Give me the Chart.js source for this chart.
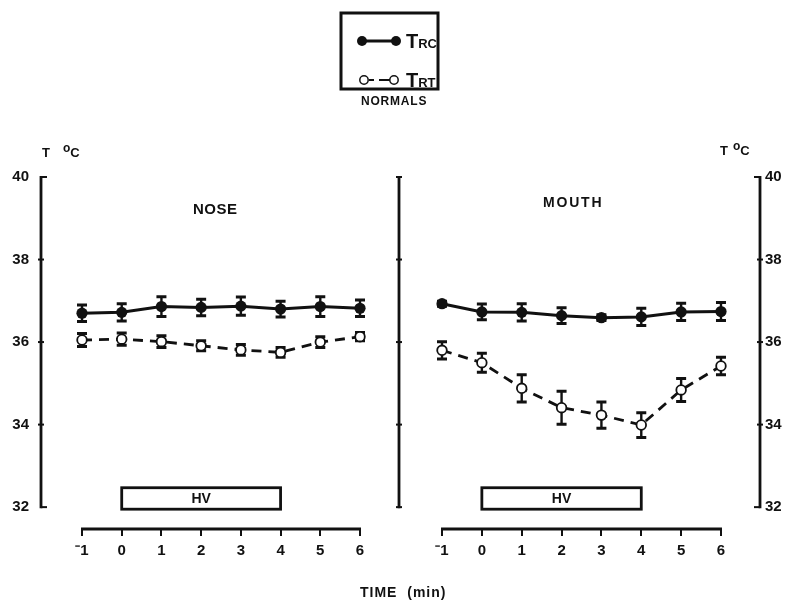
<!DOCTYPE html>
<html>
<head>
<meta charset="utf-8">
<script src="https://cdn.jsdelivr.net/npm/chart.js@4.4.0/dist/chart.umd.min.js"></script>
<style>
    body { margin: 0; background: #fff; }
    #wrap { position: relative; width: 790px; height: 602px; font-family: "Liberation Sans", Arial, sans-serif; font-weight: bold; color: #111; }
    canvas { position: absolute; left: 0; top: 0; }
    .lbl { position: absolute; white-space: nowrap; line-height: 1; }
    .sup { position: relative; top: -5px; font-size: 12px; }
    .sub { font-size: 13px; }
</style>
</head>
<body>
<div id="wrap">
    <canvas id="nose-chart" width="790" height="602"></canvas>
    <canvas id="mouth-chart" width="790" height="602"></canvas>

    <div class="lbl" style="left:406px;top:31px;font-size:20px">T<span class="sub">RC</span></div>
    <div class="lbl" style="left:406px;top:70px;font-size:20px">T<span class="sub">RT</span></div>
    <div class="lbl" style="left:361px;top:95px;font-size:12px;letter-spacing:0.8px">NORMALS</div>

    <div class="lbl" style="left:42px;top:146px;font-size:13px">T<span class="sup" style="margin-left:13px">o</span>C</div>
    <div class="lbl" style="left:720px;top:144px;font-size:13px">T<span class="sup" style="margin-left:5px">o</span>C</div>

    <div class="lbl" style="left:193px;top:201px;font-size:15px;letter-spacing:0.5px">NOSE</div>
    <div class="lbl" style="left:543px;top:195px;font-size:14px;letter-spacing:1.8px">MOUTH</div>

    <div class="lbl" style="left:360px;top:585px;font-size:14px;letter-spacing:1px">TIME&nbsp;&nbsp;(min)</div>
</div>

<script>
// time axis (min) and temperature axis (deg C)
const minutes = [-1, 0, 1, 2, 3, 4, 5, 6];
const tempTicks = [32, 34, 36, 38, 40];
const hvPeriod = [0, 4];

// NOSE breathing
const noseTrc = [36.70, 36.72, 36.86, 36.84, 36.87, 36.80, 36.86, 36.82];
const noseTrcErr = [0.20, 0.21, 0.24, 0.20, 0.22, 0.19, 0.24, 0.20];
const noseTrt = [36.05, 36.07, 36.01, 35.91, 35.81, 35.75, 36.00, 36.13];
const noseTrtErr = [0.16, 0.15, 0.14, 0.12, 0.13, 0.12, 0.13, 0.10];

// MOUTH breathing
const mouthTrc = [36.93, 36.73, 36.72, 36.64, 36.59, 36.61, 36.73, 36.74];
const mouthTrcErr = [0.06, 0.19, 0.21, 0.19, 0.07, 0.21, 0.21, 0.22];
const mouthTrt = [35.80, 35.50, 34.88, 34.41, 34.23, 33.99, 34.84, 35.42];
const mouthTrtErr = [0.21, 0.23, 0.33, 0.40, 0.32, 0.30, 0.28, 0.21];

const ink = '#111';
const tickFont = { family: '"Liberation Sans", Arial, sans-serif', size: 15, weight: 'bold' };

function toPoints(values) {
    return values.map((v, i) => ({ x: minutes[i], y: v }));
}

function makeDatasets(trc, trcErr, trt, trtErr) {
    return [
        {
            label: 'TRC',
            data: toPoints(trc),
            err: trcErr,
            borderColor: ink,
            borderWidth: 3,
            pointRadius: 5.6,
            pointBackgroundColor: ink,
            pointBorderColor: ink,
            pointBorderWidth: 0
        },
        {
            label: 'TRT',
            data: toPoints(trt),
            err: trtErr,
            borderColor: ink,
            borderWidth: 2.8,
            borderDash: [10, 7],
            pointRadius: 4.8,
            pointBackgroundColor: '#fff',
            pointBorderColor: ink,
            pointBorderWidth: 1.8
        }
    ];
}

// error bars behind the markers
const errorBars = {
    id: 'errorBars',
    beforeDatasetsDraw(chart) {
        const { ctx, scales: { x, y } } = chart;
        ctx.save();
        ctx.strokeStyle = ink;
        chart.data.datasets.forEach(ds => {
            ds.data.forEach((p, i) => {
                const px = x.getPixelForValue(p.x);
                const top = y.getPixelForValue(p.y + ds.err[i]);
                const bot = y.getPixelForValue(p.y - ds.err[i]);
                ctx.lineWidth = 2.4;
                ctx.beginPath();
                ctx.moveTo(px, top);
                ctx.lineTo(px, bot);
                ctx.stroke();
                ctx.lineWidth = 3;
                ctx.beginPath();
                ctx.moveTo(px - 5, top);
                ctx.lineTo(px + 5, top);
                ctx.moveTo(px - 5, bot);
                ctx.lineTo(px + 5, bot);
                ctx.stroke();
            });
        });
        ctx.restore();
    }
};

// axis lines, HV box and legend box
const frame = {
    id: 'frame',
    afterDatasetsDraw(chart, args, opts) {
        const { ctx, chartArea: area, scales: { x, y } } = chart;
        const yTop = y.getPixelForValue(tempTicks[tempTicks.length - 1]);
        const yBot = y.getPixelForValue(tempTicks[0]);
        ctx.save();
        ctx.strokeStyle = ink;
        ctx.fillStyle = ink;

        opts.axes.forEach(a => {
            const ax = a.side === 'left' ? area.left : area.right;
            ctx.lineWidth = 2.8;
            ctx.beginPath();
            ctx.moveTo(ax, yTop - 1);
            ctx.lineTo(ax, yBot + 1);
            ctx.stroke();
            ctx.lineWidth = 2;
            tempTicks.forEach((t, i) => {
                const py = y.getPixelForValue(t);
                const isEnd = i === 0 || i === tempTicks.length - 1;
                ctx.beginPath();
                if (isEnd && a.serif) {
                    ctx.moveTo(ax, py);
                    ctx.lineTo(ax + a.serif * 6, py);
                } else {
                    ctx.moveTo(ax - 3, py);
                    ctx.lineTo(ax + 3, py);
                }
                ctx.stroke();
            });
        });

        // time axis line
        ctx.lineWidth = 2.8;
        ctx.beginPath();
        ctx.moveTo(x.getPixelForValue(minutes[0]) - 1, area.bottom);
        ctx.lineTo(x.getPixelForValue(minutes[minutes.length - 1]) + 1, area.bottom);
        ctx.stroke();

        // hyperventilation period
        const hx0 = x.getPixelForValue(hvPeriod[0]);
        const hx1 = x.getPixelForValue(hvPeriod[1]);
        const hy0 = y.getPixelForValue(32.47);
        const hy1 = y.getPixelForValue(31.95);
        ctx.lineWidth = 2.8;
        ctx.strokeRect(hx0, hy0, hx1 - hx0, hy1 - hy0);
        ctx.font = 'bold 14px "Liberation Sans", Arial, sans-serif';
        ctx.textAlign = 'center';
        ctx.textBaseline = 'middle';
        ctx.fillText('HV', (hx0 + hx1) / 2, (hy0 + hy1) / 2 + 1);

        if (opts.legend) {
            ctx.lineWidth = 3;
            ctx.strokeRect(341, 13, 97, 76);
            // TRC sample
            ctx.lineWidth = 3;
            ctx.beginPath();
            ctx.moveTo(362, 41);
            ctx.lineTo(396, 41);
            ctx.stroke();
            [362, 396].forEach(cx => {
                ctx.beginPath();
                ctx.arc(cx, 41, 5, 0, Math.PI * 2);
                ctx.fill();
            });
            // TRT sample
            ctx.lineWidth = 2.2;
            ctx.beginPath();
            ctx.moveTo(369, 80);
            ctx.lineTo(374, 80);
            ctx.moveTo(379, 80);
            ctx.lineTo(390, 80);
            ctx.stroke();
            ctx.lineWidth = 1.5;
            ctx.fillStyle = '#fff';
            [364, 394].forEach(cx => {
                ctx.beginPath();
                ctx.arc(cx, 80, 4.2, 0, Math.PI * 2);
                ctx.fill();
                ctx.stroke();
            });
        }
        ctx.restore();
    }
};

function minusLabel(v) {
    return v < 0 ? '\u207B' + Math.abs(v) : String(v);
}

function createPanel(canvasId, datasets, cfg) {
    const ctx = document.getElementById(canvasId).getContext('2d');
    return new Chart(ctx, {
        type: 'line',
        data: { datasets: datasets },
        options: {
            responsive: false,
            animation: false,
            layout: { padding: cfg.padding },
            scales: {
                x: {
                    type: 'linear',
                    min: cfg.xMin,
                    max: cfg.xMax,
                    afterFit: s => { s.height = 73; },
                    afterBuildTicks: s => { s.ticks = minutes.map(v => ({ value: v })); },
                    border: { display: false },
                    grid: { drawOnChartArea: false, drawTicks: true, tickLength: 7, color: ink, lineWidth: 2 },
                    ticks: { color: ink, font: tickFont, padding: 6, maxRotation: 0, callback: minusLabel }
                },
                y: {
                    type: 'linear',
                    position: cfg.yPosition,
                    min: 31.47,
                    max: 40,
                    afterFit: s => { s.width = cfg.yWidth; },
                    afterBuildTicks: s => { s.ticks = tempTicks.map(v => ({ value: v })); },
                    border: { display: false },
                    grid: { display: false, drawTicks: false },
                    ticks: { color: ink, font: tickFont, padding: cfg.yPad }
                }
            },
            plugins: {
                legend: { display: false },
                tooltip: { enabled: false },
                frame: { axes: cfg.axes, legend: cfg.legend }
            }
        },
        plugins: [errorBars, frame]
    });
}

document.addEventListener('DOMContentLoaded', function() {
    // left panel: -1 at x=82, 6 at x=360, chart area 41..399
    createPanel('nose-chart', makeDatasets(noseTrc, noseTrcErr, noseTrt, noseTrtErr), {
        padding: { left: 0, right: 391, top: 177, bottom: 0 },
        xMin: -2.0325, xMax: 6.982,
        yPosition: 'left', yWidth: 41, yPad: 12,
        axes: [{ side: 'left', serif: 1 }, { side: 'right', serif: 0 }],
        legend: true
    });
    // right panel: -1 at x=442, 6 at x=721, chart area 400..760
    createPanel('mouth-chart', makeDatasets(mouthTrc, mouthTrcErr, mouthTrt, mouthTrtErr), {
        padding: { left: 400, right: 0, top: 177, bottom: 0 },
        xMin: -2.054, xMax: 6.979,
        yPosition: 'right', yWidth: 30, yPad: 5,
        axes: [{ side: 'right', serif: -1 }],
        legend: false
    });
});
</script>
</body>
</html>
